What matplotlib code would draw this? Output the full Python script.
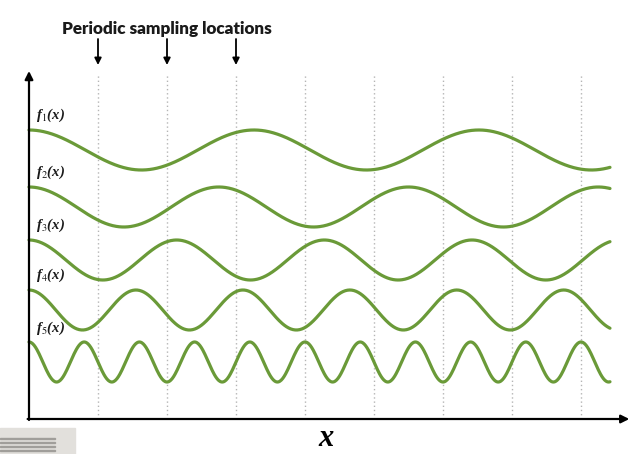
import numpy as np
import matplotlib.pyplot as plt
from matplotlib.patches import Rectangle

# periods of the five curves, in units of the sampling interval
periods = [3.26, 2.75, 2.14, 1.55, 0.80]
# vertical centre of each curve (amplitude = 1)
levels = [13.45, 10.6, 7.95, 5.45, 2.85]
labels = ["f$_1$(x)", "f$_2$(x)", "f$_3$(x)", "f$_4$(x)", "f$_5$(x)"]
label_y = [15.2, 12.35, 9.7, 7.2, 4.55]
sample_locs = [1, 2, 3, 4, 5, 6, 7, 8]
marked_locs = [1, 2, 3]

plt.rcParams["mathtext.fontset"] = "stix"

fig = plt.figure(figsize=(6.39, 4.54), dpi=100)
ax = fig.add_axes([0, 0, 1, 1])
ax.set_xlim(-29 / 69, 610 / 69)
ax.set_ylim(-35 / 20, 419 / 20)
ax.axis("off")

green = "#6a9a38"
x = np.linspace(0, 8.42, 800)
for P, c in zip(periods, levels):
    ax.plot(x, c + np.cos(2 * np.pi * x / P), color=green, linewidth=2.3,
            solid_capstyle="round")

for lab, ly in zip(labels, label_y):
    ax.text(0.1, ly, lab, fontsize=10.5, ha="left", va="center",
            family="Liberation Serif", style="italic", weight="bold",
            color="#1a1a1a")

# dotted sampling lines
for s in sample_locs:
    ax.plot([s, s], [0, 17.2], color="#b5b5b5", linestyle=(0, (1, 2)),
            linewidth=1.0, zorder=0)

# axes arrows
ax.annotate("", xy=(0, 17.4), xytext=(0, -0.05),
            arrowprops=dict(arrowstyle="-|>", color="black", lw=1.6,
                            mutation_scale=12, shrinkA=0, shrinkB=0))
ax.annotate("", xy=(8.7, 0), xytext=(-0.02, 0),
            arrowprops=dict(arrowstyle="-|>", color="black", lw=1.6,
                            mutation_scale=12, shrinkA=0, shrinkB=0))

# sampling arrows
for s in marked_locs:
    ax.annotate("", xy=(s, 17.7), xytext=(s, 19.0),
                arrowprops=dict(arrowstyle="-|>", color="black", lw=1.3,
                                mutation_scale=10, shrinkA=0, shrinkB=0))

ax.text(2.0, 19.5, "Periodic sampling locations", fontsize=12.3,
        fontweight="heavy", family="Lato", ha="center", va="center",
        color="#1a1a1a")

ax.text(4.3, -0.95, "x", fontsize=22, ha="center", va="center",
        family="Liberation Serif", style="italic", weight="bold")

# gray object in the lower-left corner of the photo
fig.patches.append(Rectangle((0, 0), 75 / 639, 26 / 454,
                             transform=fig.transFigure, color="#e2e0dc",
                             zorder=-1))
for yy in [3, 7, 11, 15]:
    fig.patches.append(Rectangle((0, yy / 454), 55 / 639, 1.5 / 454,
                                 transform=fig.transFigure, color="#a09e9a",
                                 zorder=-1))

fig.savefig("out.png", dpi=100)
